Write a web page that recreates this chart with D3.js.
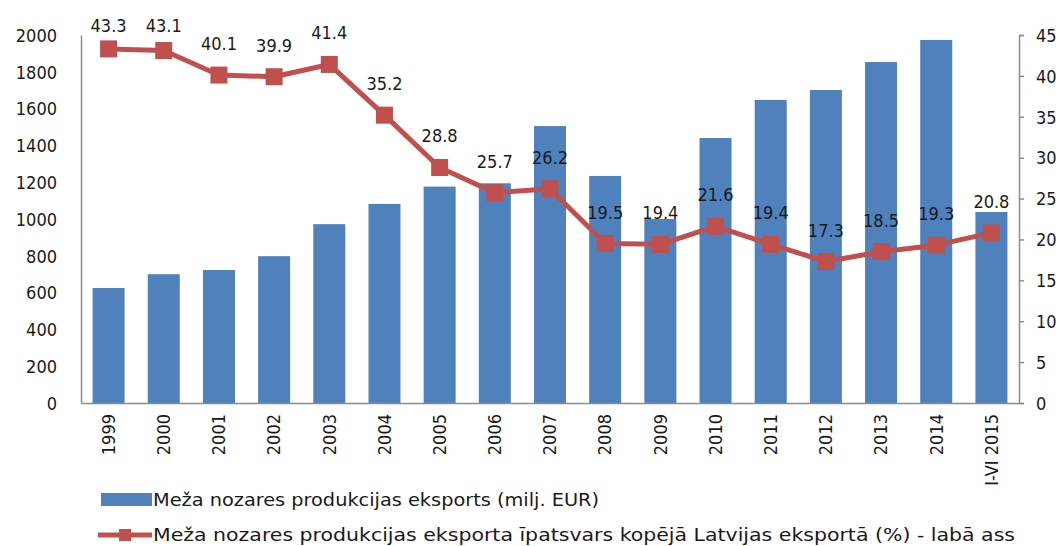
<!DOCTYPE html>
<html>
<head>
<meta charset="utf-8">
<script src="https://cdn.jsdelivr.net/npm/d3@7"></script>
<style>
  body { margin: 0; background: #fff; }
  text { font-family: "DejaVu Sans Condensed", "DejaVu Sans", sans-serif; fill: #1a1a1a; }
</style>
</head>
<body>
<div id="chart"></div>
<script>
// Data
var years = ["1999", "2000", "2001", "2002", "2003", "2004", "2005", "2006", "2007",
             "2008", "2009", "2010", "2011", "2012", "2013", "2014", "I-VI 2015"];
var exportValues = [625, 700, 723, 798, 972, 1082, 1176, 1194, 1505,
                    1234, 1000, 1440, 1647, 1701, 1853, 1973, 1038];
var shareValues = [43.3, 43.1, 40.1, 39.9, 41.4, 35.2, 28.8, 25.7, 26.2,
                   19.5, 19.4, 21.6, 19.4, 17.3, 18.5, 19.3, 20.8];
var leftTicks = [0, 200, 400, 600, 800, 1000, 1200, 1400, 1600, 1800, 2000];
var rightTicks = [0, 5, 10, 15, 20, 25, 30, 35, 40, 45];
var barLegend = "Meža nozares produkcijas eksports (milj. EUR)";
var lineLegend = "Meža nozares produkcijas eksporta īpatsvars kopējā Latvijas eksportā (%) - labā ass";

var svgWidth = 1062;
var svgHeight = 546;

var margin = { top: 35, right: 43, bottom: 143, left: 81 };
var chartWidth = svgWidth - margin.left - margin.right;
var chartHeight = svgHeight - margin.top - margin.bottom;

var barColor = "#4f81bd";
var lineColor = "#c0504d";
var axisColor = "#8c8c8c";
var fontSize = 18;

var svg = d3.select("#chart")
  .append("svg")
  .attr("width", svgWidth)
  .attr("height", svgHeight);

svg.append("rect")
  .attr("width", svgWidth)
  .attr("height", svgHeight)
  .attr("fill", "#fff");

var chartGroup = svg.append("g")
  .attr("transform", `translate(${margin.left}, ${margin.top})`);

// Scales
var xBand = d3.scaleBand()
  .domain(years)
  .range([0, chartWidth])
  .paddingInner(0.42)
  .paddingOuter(0.21);

var yLeft = d3.scaleLinear()
  .domain([0, 2000])
  .range([chartHeight, 0]);

var yRight = d3.scaleLinear()
  .domain([0, 45])
  .range([chartHeight, 0]);

// Bars
chartGroup.selectAll("rect.bar")
  .data(exportValues)
  .enter()
  .append("rect")
  .attr("class", "bar")
  .attr("x", (d, i) => xBand(years[i]))
  .attr("y", d => yLeft(d))
  .attr("width", xBand.bandwidth())
  .attr("height", d => chartHeight - yLeft(d))
  .attr("fill", barColor);

// Axes
var leftAxis = d3.axisLeft(yLeft).tickValues(leftTicks).tickFormat(d3.format("d"))
  .tickSize(0).tickPadding(24);
var rightAxis = d3.axisRight(yRight).tickValues(rightTicks).tickFormat(d3.format("d"))
  .tickSize(5).tickPadding(12);
var bottomAxis = d3.axisBottom(xBand).tickSize(0).tickPadding(10);

var gLeft = chartGroup.append("g").call(leftAxis);
var gRight = chartGroup.append("g")
  .attr("transform", `translate(${chartWidth}, 0)`)
  .call(rightAxis);
var gBottom = chartGroup.append("g")
  .attr("transform", `translate(0, ${chartHeight})`)
  .call(bottomAxis);

[gLeft, gRight, gBottom].forEach(function(g) {
  g.select(".domain").attr("stroke", axisColor).attr("stroke-width", 1.5);
  g.selectAll(".tick line").attr("stroke", axisColor).attr("stroke-width", 1.5);
  g.selectAll("text")
    .attr("font-size", fontSize)
    .attr("font-family", "'DejaVu Sans Condensed', 'DejaVu Sans', sans-serif")
    .attr("fill", "#1a1a1a");
});
gLeft.selectAll(".tick text").attr("dy", "0.35em");
gRight.selectAll(".tick text").attr("dy", "0.35em");

// Rotated category labels
gBottom.selectAll(".tick text")
  .attr("transform", "rotate(-90)")
  .attr("text-anchor", "end")
  .attr("x", -11)
  .attr("y", 0)
  .attr("dy", "0.35em");

// Line
var line = d3.line()
  .x((d, i) => xBand(years[i]) + xBand.bandwidth() / 2)
  .y(d => yRight(d));

chartGroup.append("path")
  .datum(shareValues)
  .attr("d", line)
  .attr("fill", "none")
  .attr("stroke", lineColor)
  .attr("stroke-width", 5)
  .attr("stroke-linejoin", "round");

var markerSize = 17;
chartGroup.selectAll("rect.marker")
  .data(shareValues)
  .enter()
  .append("rect")
  .attr("class", "marker")
  .attr("x", (d, i) => xBand(years[i]) + xBand.bandwidth() / 2 - markerSize / 2)
  .attr("y", d => yRight(d) - markerSize / 2)
  .attr("width", markerSize)
  .attr("height", markerSize)
  .attr("fill", lineColor);

// Value labels
chartGroup.selectAll("text.value")
  .data(shareValues)
  .enter()
  .append("text")
  .attr("class", "value")
  .attr("x", (d, i) => xBand(years[i]) + xBand.bandwidth() / 2)
  .attr("y", d => Math.max(yRight(d) - 25, -3))
  .attr("text-anchor", "middle")
  .attr("font-size", fontSize)
  .text(d => d.toFixed(1));

// Legend
var legend = svg.append("g");

legend.append("rect")
  .attr("x", 101)
  .attr("y", 493)
  .attr("width", 51)
  .attr("height", 13)
  .attr("fill", barColor);

legend.append("text")
  .attr("x", 153)
  .attr("y", 506)
  .attr("font-size", fontSize)
  .attr("textLength", 446)
  .attr("lengthAdjust", "spacingAndGlyphs")
  .text(barLegend);

legend.append("line")
  .attr("x1", 98)
  .attr("x2", 152)
  .attr("y1", 535)
  .attr("y2", 535)
  .attr("stroke", lineColor)
  .attr("stroke-width", 5);

legend.append("rect")
  .attr("x", 119)
  .attr("y", 529)
  .attr("width", 12)
  .attr("height", 12)
  .attr("fill", lineColor);

legend.append("text")
  .attr("x", 153)
  .attr("y", 541)
  .attr("font-size", fontSize)
  .attr("textLength", 862)
  .attr("lengthAdjust", "spacingAndGlyphs")
  .text(lineLegend);
</script>
</body>
</html>
